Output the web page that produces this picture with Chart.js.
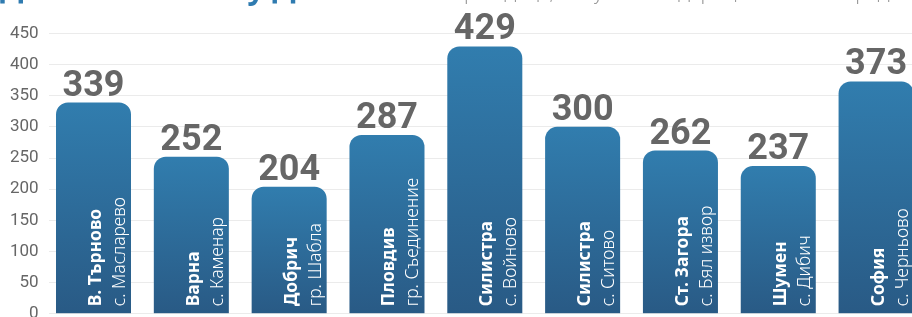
<!DOCTYPE html>
<html lang="bg">
<head>
<meta charset="utf-8">
<script src="https://cdn.jsdelivr.net/npm/chart.js@4/dist/chart.umd.min.js"></script>
<style>
  html, body { margin:0; padding:0; background:#fff; }
  body { width:912px; height:317px; overflow:hidden; position:relative; }
  #wrap { position:absolute; left:0; top:-60px; width:925px; height:390px; }
  #title { position:absolute; left:0; top:-29px; font:700 30px "Noto Sans"; line-height:34px; color:#2f7bb0; white-space:nowrap; }
  #subtitle { position:absolute; left:452px; top:-18px; font:300 20px "Noto Sans"; line-height:20px; color:#9a9a9a; white-space:nowrap; }
</style>
</head>
<body>
<div id="wrap"><canvas id="c" lang="bg"></canvas></div>
<div id="title">Домове от села у Дома</div>
<div id="subtitle">Брой деца, получили подаръци по села и градове</div>
<script>
const cities = ["В. Търново", "Варна", "Добрич", "Пловдив", "Силистра", "Силистра", "Ст. Загора", "Шумен", "София"];
const places = ["с. Масларево", "с. Каменар", "гр. Шабла", "гр. Съединение", "с. Войново", "с. Ситово", "с. Бял извор", "с. Дибич", "с. Черньово"];
const values = [339, 252, 204, 287, 429, 300, 262, 237, 373];
const yTicks = [0, 50, 100, 150, 200, 250, 300, 350, 400, 450];

const gridStart = {
  id: 'gridStart',
  afterLayout(chart) { chart.chartArea.left = 49; }
};

const barText = {
  id: 'barText',
  afterDatasetsDraw(chart) {
    const ctx = chart.ctx;
    try { ctx.lang = 'bg'; } catch (e) {}
    const meta = chart.getDatasetMeta(0);
    meta.data.forEach((bar, i) => {
      ctx.save();
      ctx.fillStyle = '#666666';
      ctx.font = '700 36px Roboto';
      ctx.textAlign = 'center';
      ctx.textBaseline = 'alphabetic';
      ctx.fillText(String(values[i]), bar.x, bar.y - 7);
      ctx.restore();

      ctx.save();
      ctx.fillStyle = '#ffffff';
      ctx.textAlign = 'left';
      ctx.textBaseline = 'middle';
      ctx.translate(bar.x + 2.5, bar.base - 7);
      ctx.rotate(-Math.PI / 2);
      ctx.font = '700 17.5px "Noto Sans"';
      ctx.fillText(cities[i], 0, 0);
      ctx.restore();

      ctx.save();
      ctx.fillStyle = '#ffffff';
      ctx.textAlign = 'left';
      ctx.textBaseline = 'middle';
      ctx.translate(bar.x + 26.5, bar.base - 7);
      ctx.rotate(-Math.PI / 2);
      ctx.font = '300 17.5px "Noto Sans"';
      ctx.fillText(places[i], 0, 0);
      ctx.restore();
    });
  }
};

new Chart(document.getElementById('c'), {
  type: 'bar',
  data: {
    labels: cities,
    datasets: [{
      data: values,
      borderRadius: 12,
      borderSkipped: 'bottom',
      barPercentage: 0.767,
      categoryPercentage: 1,
      backgroundColor: (c) => {
        const chart = c.chart;
        const s = chart.scales && chart.scales.y;
        if (!s || c.type !== 'data') return '#2e72a3';
        const yTop = s.getPixelForValue(c.raw);
        const yBot = s.getPixelForValue(0);
        if (!isFinite(yTop) || !isFinite(yBot) || yTop === yBot) return '#2e72a3';
        const g = chart.ctx.createLinearGradient(0, yTop, 0, yBot);
        g.addColorStop(0, '#317dae');
        g.addColorStop(1, '#295a85');
        return g;
      }
    }]
  },
  options: {
    responsive: true,
    maintainAspectRatio: false,
    animation: false,
    layout: { padding: { top: 93.4, bottom: 15.5, left: 0, right: 0 } },
    plugins: { legend: { display: false }, tooltip: { enabled: false }, title: { display: false } },
    scales: {
      x: { display: false },
      y: {
        min: 0, max: 450,
        afterBuildTicks(scale) { scale.ticks = yTicks.map(v => ({ value: v })); },
        afterFit(scale) { scale.width = 44.6; },
        border: { display: false },
        grid: { color: '#ebebeb', drawTicks: false, lineWidth: 1 },
        ticks: { color: '#666666', font: { family: 'Roboto', size: 17 }, padding: 6 }
      }
    }
  },
  plugins: [gridStart, barText]
});
</script>
</body>
</html>
